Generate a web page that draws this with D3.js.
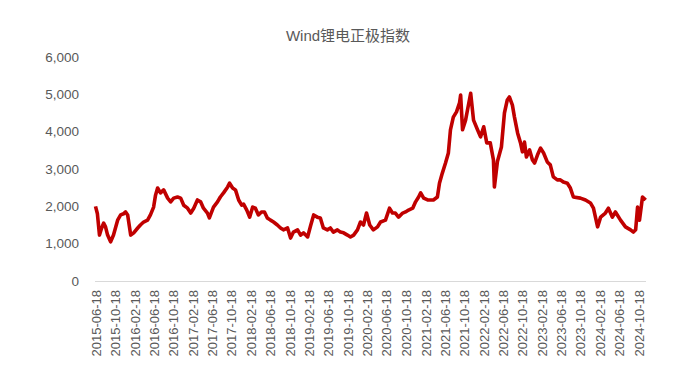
<!DOCTYPE html>
<html><head><meta charset="utf-8">
<script src="https://cdn.jsdelivr.net/npm/d3@7"></script>
<style>
body{margin:0;background:#fff}
text{font-family:"Liberation Sans",Arial,"Noto Sans CJK SC",sans-serif;fill:#595959}
</style>
</head><body>
<svg id="chart" width="695" height="382"></svg>
<script>
const title = "Wind锂电正极指数";
const dates = ["2015-06-18","2015-06-30","2015-07-13","2015-07-25","2015-08-08","2015-08-20","2015-09-02","2015-09-21","2015-10-09","2015-11-04","2015-11-23","2015-12-11","2015-12-24","2016-01-06","2016-01-25","2016-02-13","2016-03-09","2016-03-26","2016-04-15","2016-05-10","2016-05-28","2016-06-17","2016-06-29","2016-07-12","2016-07-30","2016-08-19","2016-09-13","2016-10-02","2016-10-21","2016-11-14","2016-12-04","2016-12-23","2017-01-16","2017-02-05","2017-02-24","2017-03-19","2017-04-08","2017-04-26","2017-05-21","2017-06-02","2017-06-28","2017-07-23","2017-08-10","2017-08-30","2017-09-25","2017-10-07","2017-10-26","2017-11-13","2017-12-03","2017-12-22","2018-01-03","2018-01-23","2018-02-10","2018-03-01","2018-03-18","2018-04-06","2018-04-25","2018-05-14","2018-06-01","2018-06-21","2018-07-10","2018-08-03","2018-08-23","2018-09-10","2018-10-06","2018-10-25","2018-11-12","2018-12-08","2018-12-27","2019-01-14","2019-02-09","2019-03-01","2019-03-19","2019-04-11","2019-04-30","2019-05-19","2019-06-13","2019-07-02","2019-07-21","2019-08-15","2019-09-03","2019-09-23","2019-10-17","2019-11-05","2019-11-25","2019-12-19","2020-01-07","2020-01-26","2020-02-14","2020-03-05","2020-03-28","2020-04-23","2020-05-12","2020-06-12","2020-07-07","2020-07-26","2020-08-13","2020-09-02","2020-09-28","2020-10-16","2020-11-04","2020-11-30","2020-12-18","2021-01-06","2021-01-19","2021-02-07","2021-03-04","2021-03-21","2021-04-09","2021-05-04","2021-05-17","2021-06-04","2021-06-24","2021-07-12","2021-07-25","2021-08-12","2021-09-01","2021-09-20","2021-09-27","2021-10-09","2021-10-28","2021-11-09","2021-11-29","2021-12-17","2022-01-11","2022-01-30","2022-02-19","2022-03-10","2022-04-01","2022-04-21","2022-04-27","2022-05-16","2022-06-10","2022-06-29","2022-07-17","2022-07-30","2022-08-18","2022-08-31","2022-09-20","2022-10-08","2022-10-20","2022-11-02","2022-11-14","2022-12-04","2022-12-22","2023-01-04","2023-01-23","2023-02-11","2023-03-02","2023-03-25","2023-04-13","2023-05-02","2023-05-27","2023-06-15","2023-07-04","2023-07-29","2023-08-16","2023-09-05","2023-10-19","2023-11-20","2023-12-21","2024-01-09","2024-02-04","2024-02-23","2024-03-24","2024-04-12","2024-05-07","2024-05-26","2024-06-27","2024-07-28","2024-08-29","2024-09-16","2024-09-30","2024-10-12","2024-10-24","2024-11-12","2024-12-02"];
const values = [2000,1800,1230,1400,1550,1450,1230,1050,1230,1630,1770,1800,1850,1770,1230,1290,1420,1500,1580,1630,1770,1980,2300,2490,2360,2440,2220,2120,2220,2250,2220,2030,1950,1820,1950,2170,2120,1950,1820,1690,1980,2120,2250,2360,2520,2620,2490,2440,2170,2030,2060,1900,1710,1980,1950,1770,1850,1850,1690,1630,1580,1500,1420,1370,1420,1150,1310,1370,1230,1290,1180,1500,1770,1710,1690,1420,1370,1420,1310,1370,1310,1290,1230,1180,1230,1370,1580,1500,1820,1500,1370,1450,1580,1630,1950,1820,1820,1710,1820,1850,1900,1950,2120,2250,2360,2220,2170,2170,2170,2250,2620,2890,3160,3430,4050,4390,4530,4770,4980,4050,4310,4580,5030,4310,4050,3860,4130,3700,3700,3240,2520,3200,3590,4500,4850,4930,4710,4390,3960,3700,3460,3720,3320,3510,3240,3160,3380,3560,3430,3190,3110,2790,2710,2710,2650,2620,2500,2250,2220,2170,2090,1950,1450,1710,1820,1950,1710,1850,1630,1450,1370,1310,1370,1980,1630,2250,2170];
const yTicks = [0,1000,2000,3000,4000,5000,6000];
const xTickLabels = ["2015-06-18","2015-10-18","2016-02-18","2016-06-18","2016-10-18","2017-02-18","2017-06-18","2017-10-18","2018-02-18","2018-06-18","2018-10-18","2019-02-18","2019-06-18","2019-10-18","2020-02-18","2020-06-18","2020-10-18","2021-02-18","2021-06-18","2021-10-18","2022-02-18","2022-06-18","2022-10-18","2023-02-18","2023-06-18","2023-10-18","2024-02-18","2024-06-18","2024-10-18"];
const domainEnd = "2024-12-04";

const parse = d3.timeParse("%Y-%m-%d");
const data = dates.map((d,i)=>({date:parse(d), value:values[i]}));

const svg = d3.select("#chart");
const x = d3.scaleTime().domain([parse(dates[0]), parse(domainEnd)]).range([95.5, 646]);
const y = d3.scaleLinear().domain([0,6000]).range([281,57]);

svg.append("text").attr("x",348).attr("y",41).attr("text-anchor","middle")
  .style("font-size","15px").text(title);

const yAxis = d3.axisLeft(y).tickValues(yTicks).tickFormat(d3.format(",")).tickSize(0).tickPadding(0);
const yg = svg.append("g").attr("transform","translate(79,0)").call(yAxis);
yg.select(".domain").remove();
yg.selectAll("text").style("font-size","13.5px").attr("fill","#595959");

const xAxis = d3.axisBottom(x).tickValues(xTickLabels.map(parse)).tickFormat(d3.timeFormat("%Y-%m-%d")).tickSize(0);
const xg = svg.append("g").attr("transform","translate(0,281)").call(xAxis);
xg.select(".domain").attr("stroke","#d9d9d9").attr("d","M95,0.5H646");
xg.selectAll("text").attr("transform","rotate(-90)").attr("text-anchor","end")
  .attr("x",-9).attr("y",0).attr("dy","0.35em").style("font-size","13px").attr("fill","#595959");

const line = d3.line().x(d=>x(d.date)).y(d=>y(d.value)).curve(d3.curveLinear);
svg.append("path").datum(data).attr("d",line).attr("fill","none")
  .attr("stroke","#c00000").attr("stroke-width",3.6).attr("stroke-linejoin","round");
</script>
</body></html>
